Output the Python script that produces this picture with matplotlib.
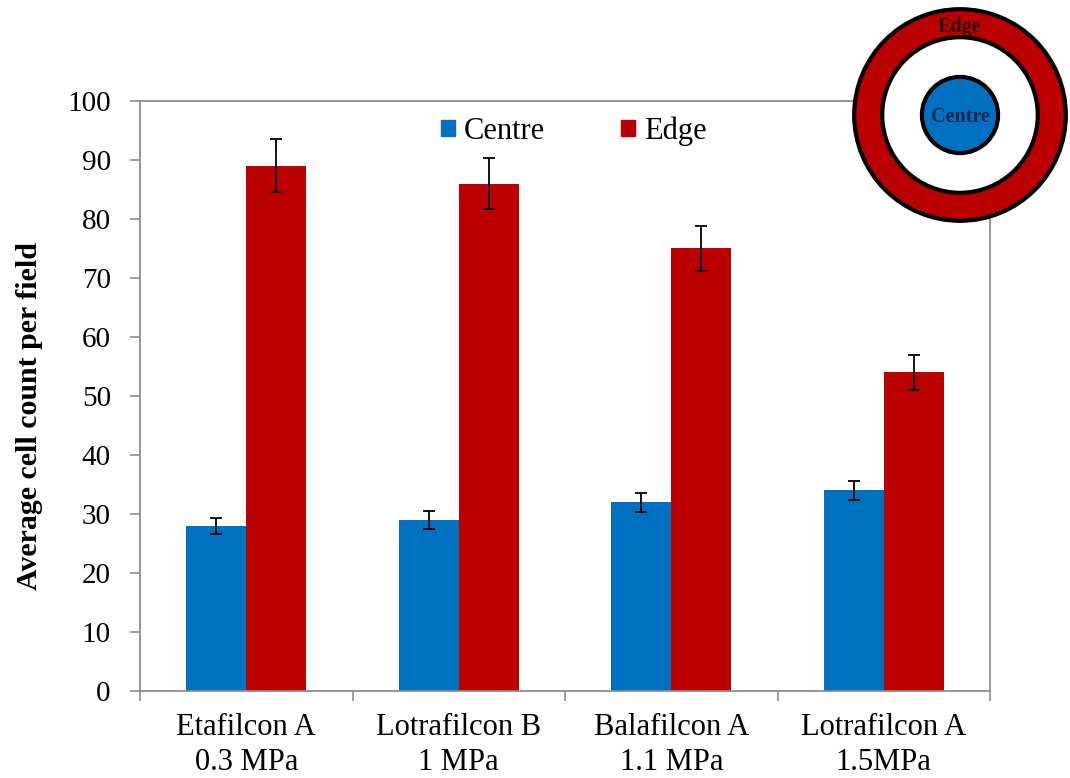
import matplotlib
matplotlib.use("Agg")
import matplotlib.pyplot as plt
import numpy as np
from matplotlib.patches import Circle, Patch

plt.rcParams['font.family'] = ['Liberation Serif', 'DejaVu Serif']

categories = ["Etafilcon A\n0.3 MPa", "Lotrafilcon B\n1 MPa", "Balafilcon A\n1.1 MPa", "Lotrafilcon A\n1.5MPa"]
centre_vals = [28, 29, 32, 34]
centre_err = [1.4, 1.5, 1.6, 1.6]
edge_vals = [89, 86, 75, 54]
edge_err = [4.5, 4.3, 3.8, 2.9]
series_names = ["Centre", "Edge"]
yticks = [0, 10, 20, 30, 40, 50, 60, 70, 80, 90, 100]

BLUE = '#0070C0'
RED = '#BA0000'
GRID = '#8c8c8c'

W, H = 1070, 778
fig = plt.figure(figsize=(W / 100, H / 100), dpi=100)
ax = fig.add_axes([140 / W, 1 - 691 / H, 850 / W, 590 / H])

x = np.arange(len(categories))
bw = 0.282
ekw = dict(ecolor='black', elinewidth=1.3, capsize=4.5, capthick=1.3)
ax.bar(x - bw / 2, centre_vals, bw, color=BLUE, yerr=centre_err, error_kw=ekw, label=series_names[0], zorder=2)
ax.bar(x + bw / 2, edge_vals, bw, color=RED, yerr=edge_err, error_kw=ekw, label=series_names[1], zorder=2)

ax.set_xlim(-0.5, len(categories) - 0.5)
ax.set_ylim(0, 100)
ax.set_yticks(yticks)
ax.set_yticklabels([str(v) for v in yticks], fontsize=21)
ax.tick_params(axis='y', direction='out', length=7, width=1.2, color=GRID, pad=14)

ax.set_xticks(np.arange(-0.5, len(categories)), minor=False)
ax.set_xticklabels([])
ax.set_xticks(x, minor=True)
ax.set_xticklabels(categories, minor=True, fontsize=22, linespacing=1.25)
ax.tick_params(axis='x', which='major', direction='out', length=7, width=1.2, color=GRID)
ax.tick_params(axis='x', which='minor', length=0, pad=16)

for s in ax.spines.values():
    s.set_color(GRID)
    s.set_linewidth(1.3)

fig.text(30 / W, 1 - 416 / H, "Average cell count per field", rotation=90,
         ha='center', va='center', fontsize=21.5, fontweight='bold')

handles = [Patch(color=BLUE), Patch(color=RED)]
fig.legend(handles, series_names, loc='center', bbox_to_anchor=(574 / W, 1 - 131 / H),
           ncol=2, frameon=False, fontsize=22, handlelength=0.45, handleheight=0.45,
           handletextpad=0.3, columnspacing=2.5, borderpad=0)

# Diagram of lens regions
cx, cy, r = 960, 115, 106
dax = fig.add_axes([(cx - r - 3) / W, 1 - (cy + r + 3) / H, (2 * r + 6) / W, (2 * r + 6) / H])
dax.set_xlim(-1.03, 1.03)
dax.set_ylim(-1.03, 1.03)
dax.set_aspect('equal')
dax.axis('off')
dax.add_patch(Circle((0, 0), 1.0, facecolor=RED, edgecolor='black', linewidth=3.0))
dax.add_patch(Circle((0, 0), 0.735, facecolor='white', edgecolor='black', linewidth=3.0))
dax.add_patch(Circle((0, 0), 0.36, facecolor=BLUE, edgecolor='black', linewidth=3.0))
dax.text(0, 0.83, "Edge", ha='center', va='center', fontsize=14.5, fontweight='bold', color='#2a0000')
dax.text(0, -0.02, "Centre", ha='center', va='center', fontsize=14.5, fontweight='bold', color='#1a2550')

fig.savefig("out.png", dpi=100)
